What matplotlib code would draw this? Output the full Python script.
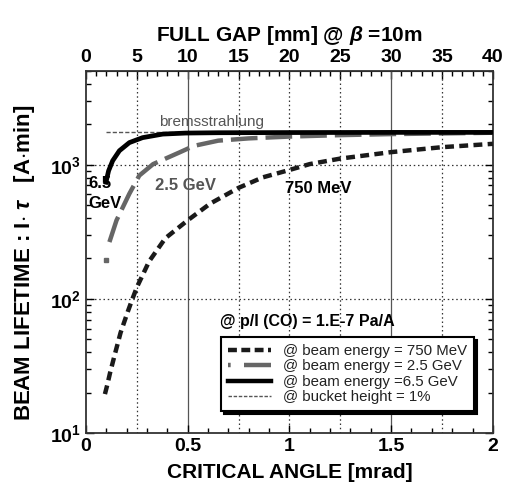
import numpy as np
import matplotlib
matplotlib.use("Agg")
import matplotlib.pyplot as plt
from matplotlib.ticker import MultipleLocator, LogLocator, NullFormatter

plt.rcParams['font.family'] = ['Liberation Sans', 'DejaVu Sans']
plt.rcParams['mathtext.fontset'] = 'custom'
plt.rcParams['mathtext.rm'] = 'Liberation Sans:bold'
plt.rcParams['mathtext.bf'] = 'Liberation Sans:bold'
plt.rcParams['mathtext.it'] = 'Liberation Sans:bold:italic'

# data: critical angle [mrad] vs lifetime [A*min]
x_750 = [0.093, 0.105, 0.118, 0.1425, 0.17, 0.205, 0.225, 0.25, 0.31, 0.39, 0.5, 0.61, 0.75, 0.87, 1.0, 1.1, 1.25, 1.5, 1.75, 2.0]
y_750 = [19.5, 23, 28, 39, 56, 80, 97, 122, 190, 283, 385, 512, 672, 805, 913, 1010, 1110, 1240, 1350, 1430]

x_25 = [0.115, 0.15, 0.213, 0.262, 0.33, 0.46, 0.53, 0.65, 0.8, 1.0, 1.25, 1.5, 2.0]
y_25 = [265, 385, 607, 830, 1010, 1235, 1380, 1510, 1570, 1620, 1660, 1690, 1730]
x_25_dot = [0.1]
y_25_dot = [195]

x_65 = [0.098, 0.111, 0.131, 0.164, 0.213, 0.278, 0.377, 0.49, 0.65, 1.0, 1.5, 2.0]
y_65 = [740, 900, 1070, 1270, 1460, 1590, 1690, 1720, 1730, 1735, 1740, 1740]

x_brems = [0.1, 2.0]
y_brems = [1740, 1740]

fig = plt.figure(figsize=(5.06, 4.94), dpi=100)
ax = fig.add_axes([0.170, 0.1235, 0.804, 0.733])

ax.set_yscale('log')
ax.set_xlim(0, 2)
ax.set_ylim(10, 5000)

# grid lines
for gx in [0.25, 0.75, 1.0, 1.25, 1.75]:
    ax.axvline(gx, color='#333333', lw=0.9, ls=(0, (1.2, 2.2)), zorder=1)
for gx in [0.5, 1.5]:
    ax.axvline(gx, color='#555555', lw=0.9, zorder=1)
for gy in [100, 1000]:
    ax.axhline(gy, color='#333333', lw=0.9, ls=(0, (1.2, 2.2)), zorder=1)

ax.plot(x_brems, y_brems, color='#555555', lw=1.0, ls=(0, (3, 1.5)), zorder=2)
ax.plot(x_750, y_750, color='#1a1a1a', lw=3.2, ls=(0, (2, 1.2)), zorder=3)
ax.plot(x_25, y_25, color='#666666', lw=3.2, ls=(0, (6, 1.8)), zorder=3)
ax.plot(x_25_dot, y_25_dot, 's', color='#666666', ms=3, zorder=3)
ax.plot(x_65, y_65, color='black', lw=3.4, zorder=4)

# legend handles
h1, = ax.plot([], [], color='#1a1a1a', lw=3.2, ls=(0, (2, 1)))
h2, = ax.plot([], [], color='#666666', lw=3.2, ls=(0, (0.6, 3, 6, 0)))
h3, = ax.plot([], [], color='black', lw=3.2)
h4, = ax.plot([], [], color='#555555', lw=1.0, ls=(0, (2.5, 1.2)))
leg = ax.legend([h1, h2, h3, h4],
                ['@ beam energy = 750 MeV', '@ beam energy = 2.5 GeV',
                 '@ beam energy =6.5 GeV', '@ bucket height = 1%'],
                loc='lower right', bbox_to_anchor=(0.972, 0.04),
                fontsize=10.8, handlelength=2.9, handletextpad=0.8,
                labelspacing=0.1, borderpad=0.45, fancybox=False,
                edgecolor='black', framealpha=1,
                shadow={'color': 'black', 'alpha': 1})
leg.get_frame().set_linewidth(1.5)
for t in leg.get_texts():
    t.set_color('#222222')

# annotations
ax.text(0.36, 1830, 'bremsstrahlung', fontsize=11, color='#555555', va='bottom')
ax.text(0.01, 820, '6.5', fontsize=12, fontweight='bold', va='top')
ax.text(0.01, 580, 'GeV', fontsize=12, fontweight='bold', va='top')
ax.text(0.34, 800, '2.5 GeV', fontsize=12, fontweight='bold', color='#555555', va='top')
ax.text(0.98, 760, '750 MeV', fontsize=12, fontweight='bold', va='top')
ax.text(0.66, 68, '@ p/I (CO) = 1.E-7 Pa/A', fontsize=11.5, fontweight='bold', va='center')

# ticks
ax.xaxis.set_minor_locator(MultipleLocator(0.1))
ax.set_xticks([0, 0.5, 1, 1.5, 2])
ax.set_xticklabels(['0', '0.5', '1', '1.5', '2'], fontsize=14, fontweight='bold')
ax.yaxis.set_minor_locator(LogLocator(base=10, subs=np.arange(2, 10), numticks=10))
ax.yaxis.set_minor_formatter(NullFormatter())
ax.set_yticks([10, 100, 1000])
ax.set_yticklabels([r'$\mathbf{10^{1}}$', r'$\mathbf{10^{2}}$', r'$\mathbf{10^{3}}$'], fontsize=14)
ax.tick_params(which='both', direction='in', top=False, right=True)
ax.tick_params(which='major', length=6, width=1)
ax.tick_params(which='minor', length=3.5, width=1)
for s in ax.spines.values():
    s.set_linewidth(1.3)
    s.set_color('#333333')

sec = ax.secondary_xaxis('top', functions=(lambda v: v * 20, lambda v: v / 20))
sec.xaxis.set_minor_locator(MultipleLocator(1))
sec.tick_params(which='both', direction='in')
sec.tick_params(which='major', length=6, width=1)
sec.tick_params(which='minor', length=3.5, width=1)
sec.set_xticks([0, 5, 10, 15, 20, 25, 30, 35, 40])
sec.set_xticklabels(['0', '5', '10', '15', '20', '25', '30', '35', '40'], fontsize=14, fontweight='bold')
sec.set_xlabel(r'FULL GAP [mm] @ $\beta$ =10m', fontsize=15, fontweight='bold', labelpad=6)

ax.set_xlabel('CRITICAL ANGLE [mrad]', fontsize=15, fontweight='bold', labelpad=6)
ax.set_ylabel(r'BEAM LIFETIME : I$\cdot$ $\tau$   [A$\cdot$min]', fontsize=16, fontweight='bold')
ax.yaxis.set_label_coords(-0.12, 0.47)

fig.savefig('out.png', dpi=100)
